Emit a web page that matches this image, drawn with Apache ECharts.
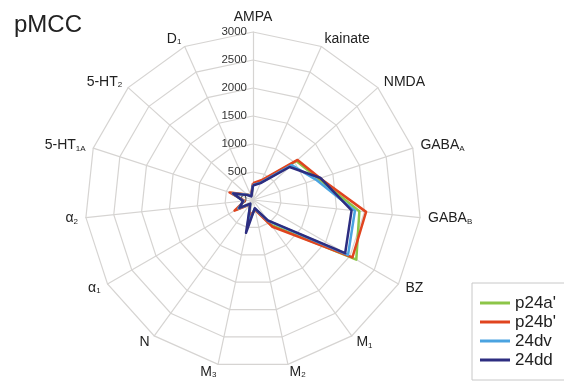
<!DOCTYPE html>
<html>
<head>
<meta charset="utf-8">
<script src="https://cdn.jsdelivr.net/npm/echarts@6/dist/echarts.min.js"></script>
<style>
html,body{margin:0;padding:0;background:#fff;}
#chart{width:564px;height:385px;}
</style>
</head>
<body>
<div id="chart"></div>
<script>
// Axis categories (clockwise from top) and their subscripts
const categories = ['AMPA','kainate','NMDA','GABA','GABA','BZ','M','M','M','N','\u03b1','\u03b1','5-HT','5-HT','D'];
const subscripts = ['','','','A','B','','1','2','3','','1','2','1A','2','1'];
const tickValues = [0,500,1000,1500,2000,2500,3000];

const seriesNames = ["p24a'", "p24b'", '24dv', '24dd'];
const seriesColors = ['#8cc548', '#e0441f', '#4aa3e0', '#2d2d80'];

// values in category order: AMPA, kainate, NMDA, GABAA, GABAB, BZ, M1, M2, M3, N, a1, a2, 5-HT1A, 5-HT2, D1
const p24a = [280, 370, 1040, 1230, 1910, 2130, 550, 170, 350, 90, 330, 160, 400, 140, 80];
const p24b = [300, 390, 1070, 1260, 2030, 2050, 590, 180, 300, 100, 380, 150, 440, 150, 90];
const v24dv = [270, 340, 930, 1180, 1830, 1960, 460, 160, 450, 90, 300, 170, 380, 140, 80];
const v24dd = [260, 330, 880, 1270, 1770, 1900, 450, 150, 600, 80, 280, 180, 370, 130, 70];
const seriesValues = [p24a, p24b, v24dv, v24dd];

const FONT = '"Liberation Sans", Arial, Helvetica, sans-serif';
const maxVal = tickValues[tickValues.length - 1];

// ECharts radar runs counterclockwise; reorder so the picture runs clockwise
const order = [0];
for (let i = categories.length - 1; i >= 1; i--) order.push(i);

const indicator = order.map(function (i, k) {
  const ind = {
    name: subscripts[i] ? categories[i] + '{s|' + subscripts[i] + '}' : categories[i],
    min: 0,
    max: maxVal
  };
  if (k === 0) ind.axisLabel = { show: true };
  return ind;
});

const chart = echarts.init(document.getElementById('chart'), null, { renderer: 'canvas' });
chart.setOption({
  animation: false,
  backgroundColor: '#ffffff',
  title: {
    text: 'pMCC',
    left: 9,
    top: 8,
    textStyle: { fontFamily: FONT, fontSize: 24, fontWeight: 'normal', color: '#222' }
  },
  legend: {
    orient: 'vertical',
    left: 472,
    top: 283,
    padding: [11, 24, 11, 8],
    itemGap: 1,
    itemWidth: 30,
    itemHeight: 3,
    itemTextGap: 8,
    icon: 'rect',
    borderColor: '#c8c8c8',
    borderWidth: 1,
    textStyle: { fontFamily: FONT, fontSize: 17, color: '#222', lineHeight: 18 },
    data: seriesNames
  },
  radar: {
    center: [253, 200],
    radius: 168,
    startAngle: 90,
    shape: 'polygon',
    splitNumber: tickValues.length - 1,
    indicator: indicator,
    nameGap: 8,
    axisName: {
      color: '#222',
      fontFamily: FONT,
      fontSize: 14,
      rich: {
        s: { fontFamily: FONT, fontSize: 8, color: '#222', verticalAlign: 'bottom' }
      }
    },
    axisLine: { lineStyle: { color: '#d6d4d2', width: 1.2 } },
    splitLine: { lineStyle: { color: '#d6d4d2', width: 1.2 } },
    splitArea: { show: false },
    axisTick: { show: false },
    axisLabel: {
      show: false,
      fontFamily: FONT,
      fontSize: 11.5,
      color: '#333',
      margin: 6,
      formatter: function (v) { return String(v); }
    }
  },
  series: [{
    type: 'radar',
    symbol: 'none',
    data: seriesValues.map(function (vals, s) {
      return {
        name: seriesNames[s],
        value: order.map(function (i) { return vals[i]; }),
        itemStyle: { color: seriesColors[s] },
        lineStyle: { color: seriesColors[s], width: 2.5 }
      };
    })
  }]
});
</script>
</body>
</html>
